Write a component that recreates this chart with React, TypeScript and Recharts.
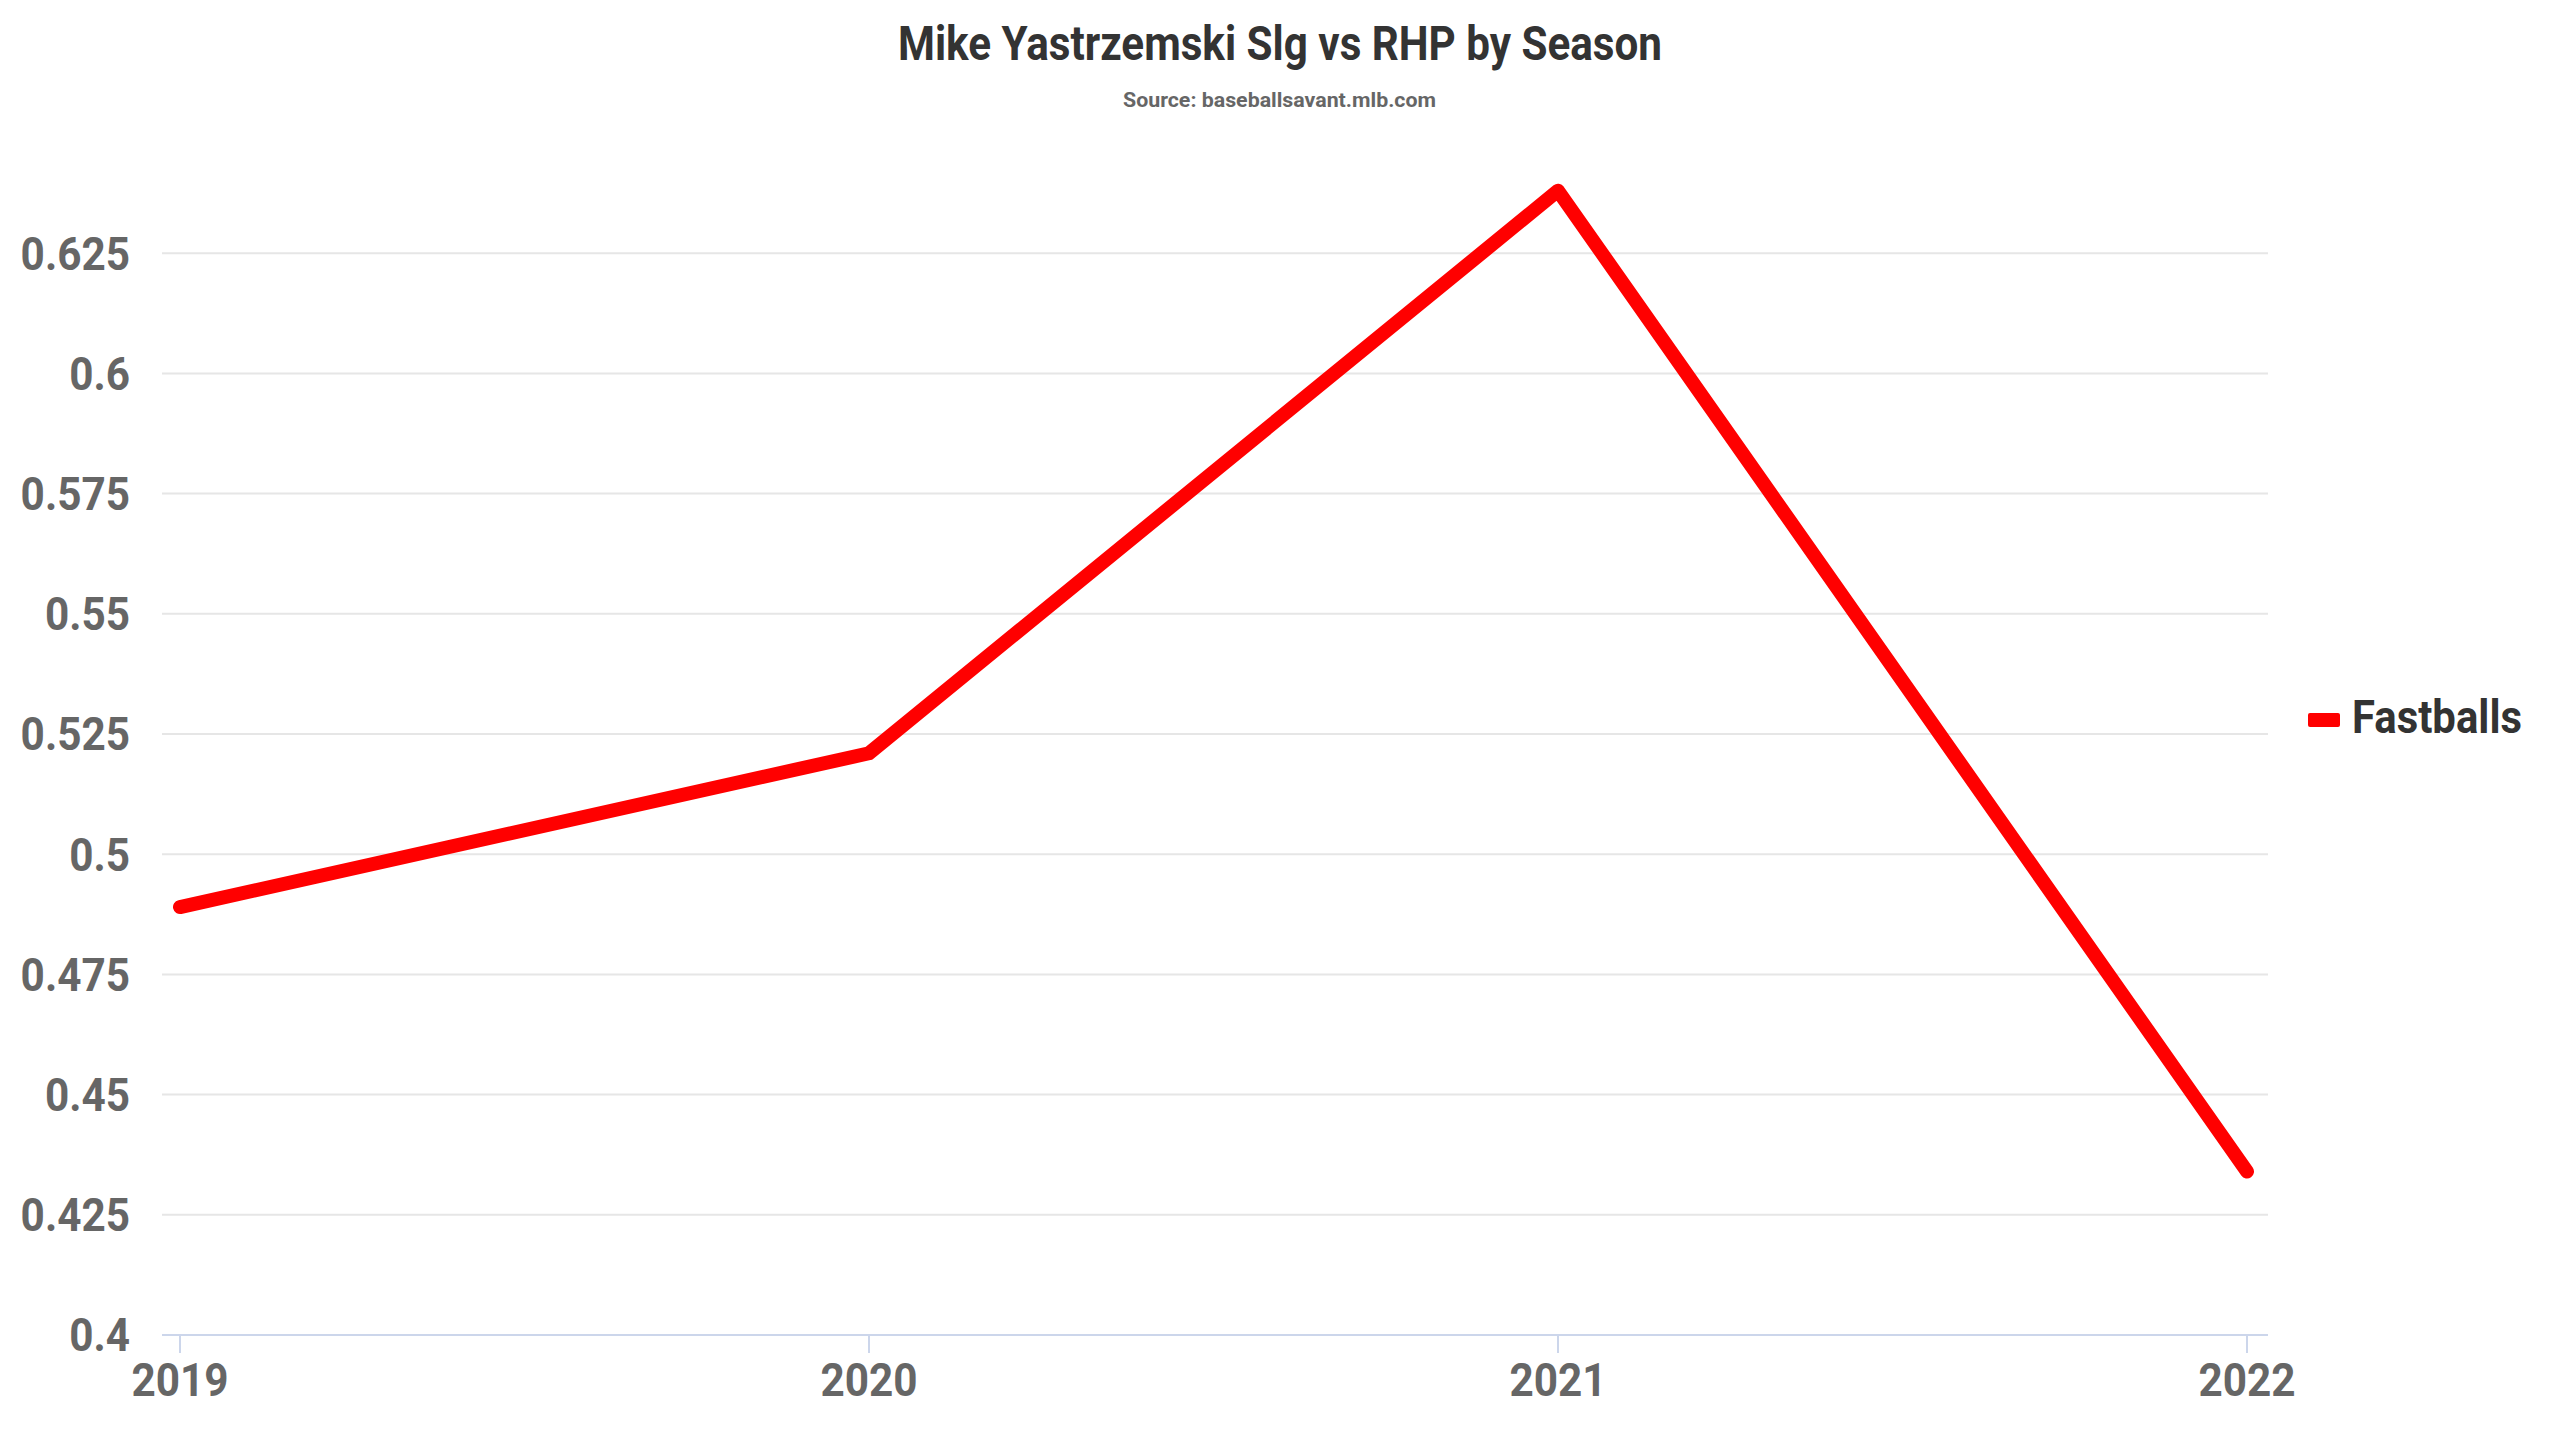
import React from "react";
import { LineChart, Line, XAxis, YAxis, CartesianGrid } from "recharts";

const seasons = ["2019", "2020", "2021", "2022"];
const fastballs = [0.489, 0.521, 0.638, 0.434];
const yTicks = [0.4, 0.425, 0.45, 0.475, 0.5, 0.525, 0.55, 0.575, 0.6, 0.625];

const data = seasons.map((season, i) => ({ season, fastballs: fastballs[i] }));

const W = 2560;
const H = 1441;
const FONT = "Roboto, 'Noto Sans', sans-serif";
const SQUEEZE = 0.92;

// narrow tick text to mimic the condensed face of the original
function YTick(props: any) {
  const { x, y, payload } = props;
  return (
    <g transform={`translate(${x},${y}) scale(${SQUEEZE},1)`}>
      <text x={0} y={0} dy="0.355em" textAnchor="end" fontFamily={FONT} fontWeight={700} fontSize={46} fill="#666666">
        {String(payload.value)}
      </text>
    </g>
  );
}

function XTick(props: any) {
  const { x, y, payload } = props;
  return (
    <g transform={`translate(${x},${y}) scale(${SQUEEZE},1)`}>
      <text x={0} y={0} dy="0.71em" textAnchor="middle" fontFamily={FONT} fontWeight={700} fontSize={46} fill="#666666">
        {payload.value}
      </text>
    </g>
  );
}

export default function App() {
  return (
    <div style={{ position: "absolute", left: 0, top: 0, width: W, height: H, background: "#fff" }}>
      <LineChart
        width={W}
        height={H}
        data={data}
        margin={{ top: 133, right: 292, bottom: 0, left: 0 }}
      >
        <CartesianGrid vertical={false} horizontalValues={yTicks} stroke="#e6e6e6" strokeWidth={2} />
        <XAxis
          dataKey="season"
          height={106}
          padding={{ left: 18, right: 21 }}
          stroke="#ccd6eb"
          strokeWidth={2}
          tickSize={18}
          tickMargin={10}
          tick={<XTick />}
        />
        <YAxis
          type="number"
          domain={[0.4, 0.65]}
          ticks={yTicks}
          width={162}
          axisLine={false}
          tickLine={false}
          tickSize={0}
          tickMargin={32}
          tick={<YTick />}
        />
        <Line
          type="linear"
          dataKey="fastballs"
          stroke="#ff0000"
          strokeWidth={14}
          strokeLinecap="round"
          strokeLinejoin="round"
          dot={false}
          activeDot={false}
          isAnimationActive={false}
        />
      </LineChart>
      <svg
        width={W}
        height={H}
        style={{ position: "absolute", left: 0, top: 0, pointerEvents: "none" }}
      >
        <text x={898} y={60} textLength={764} lengthAdjust="spacingAndGlyphs" fontFamily={FONT} fontWeight={700} fontSize={49} fill="#333333">
          Mike Yastrzemski Slg vs RHP by Season
        </text>
        <text x={1123} y={107} textLength={313} lengthAdjust="spacingAndGlyphs" fontFamily={FONT} fontWeight={700} fontSize={21} fill="#666666">
          Source: baseballsavant.mlb.com
        </text>
        <rect x={2308} y={713} width={32} height={14} rx={2} fill="#ff0000" />
        <text x={2352} y={733} textLength={170} lengthAdjust="spacingAndGlyphs" fontFamily={FONT} fontWeight={700} fontSize={46} fill="#333333">
          Fastballs
        </text>
      </svg>
    </div>
  );
}
